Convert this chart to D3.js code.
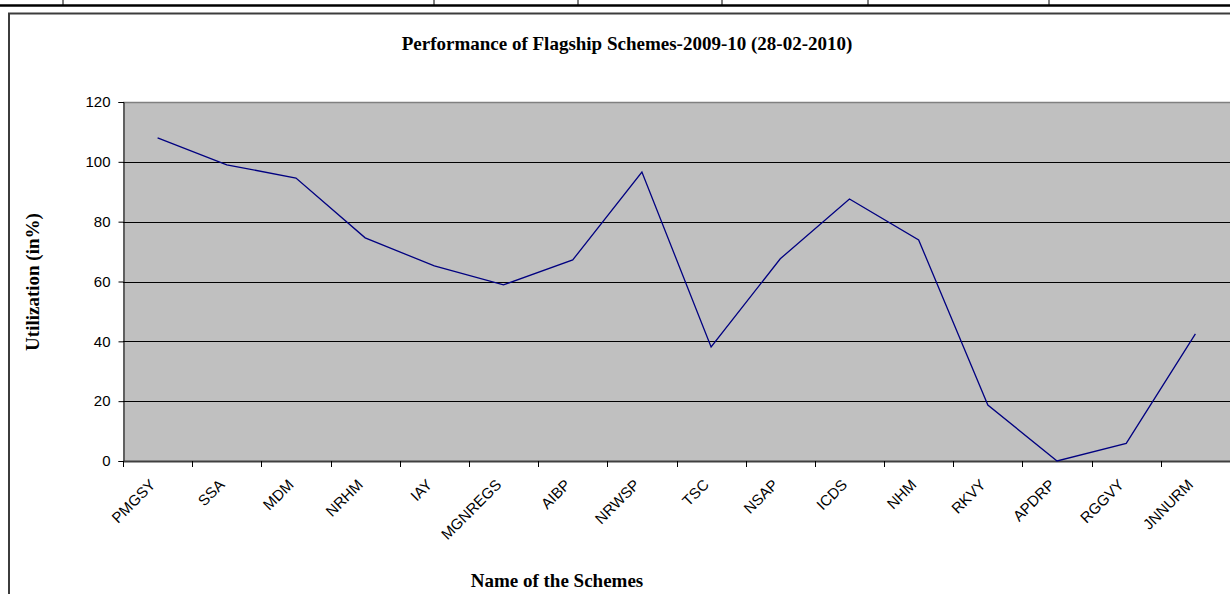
<!DOCTYPE html>
<html>
<head>
<meta charset="utf-8">
<title>Flagship Schemes</title>
<script src="https://cdnjs.cloudflare.com/ajax/libs/d3/7.8.5/d3.min.js"></script>
<style>
body { margin: 0; background: #fff; }
svg { display: block; }
.tick text, .xlab { font-family: "Liberation Sans", Arial, sans-serif; font-size: 15px; fill: #000; }
.ttl { font-family: "Liberation Serif", "Times New Roman", serif; font-weight: bold; font-size: 19px; }
</style>
</head>
<body>
<svg width="1230" height="594"></svg>
<script>
// values
var schemes = ["PMGSY", "SSA", "MDM", "NRHM", "IAY", "MGNREGS", "AIBP", "NRWSP",
               "TSC", "NSAP", "ICDS", "NHM", "RKVY", "APDRP", "RGGVY", "JNNURM"];
var utilization = [108, 99, 94.6, 74.6, 65.2, 58.9, 67.2, 96.6,
                   38.1, 67.6, 87.6, 73.9, 18.7, 0, 5.9, 42.5];
var yTicks = [0, 20, 40, 60, 80, 100, 120];
var tableCols = [63, 434, 578, 722, 868, 1049];

var svg = d3.select("svg");

// bit of the table above the chart
svg.append("line")
  .attr("x1", 0).attr("x2", 1230).attr("y1", 5.5).attr("y2", 5.5)
  .attr("stroke", "#000").attr("stroke-width", 2.5);
svg.selectAll("line.col")
  .data(tableCols)
  .enter().append("line")
  .attr("class", "col")
  .attr("x1", function(d) { return d; }).attr("x2", function(d) { return d; })
  .attr("y1", 0).attr("y2", 5)
  .attr("stroke", "#000").attr("stroke-width", 1);

// chart frame
svg.append("path")
  .attr("d", "M9,594 V13.5 H1230")
  .attr("fill", "none").attr("stroke", "#3c3c3c").attr("stroke-width", 2);

var pLeft = 123, pRight = 1230, pTop = 102, pBottom = 461;

var x = d3.scaleBand().domain(schemes).range([pLeft, pRight]);
var y = d3.scaleLinear().domain([0, 120]).range([pBottom, pTop]);

// plot area
svg.append("rect")
  .attr("x", pLeft).attr("y", pTop)
  .attr("width", pRight - pLeft).attr("height", pBottom - pTop)
  .attr("fill", "#c0c0c0");

// gridlines
svg.append("g")
  .selectAll("line")
  .data(yTicks.filter(function(d) { return d > 0 && d < 120; }))
  .enter().append("line")
  .attr("x1", pLeft).attr("x2", pRight)
  .attr("y1", function(d) { return Math.round(y(d)) + 0.5; })
  .attr("y2", function(d) { return Math.round(y(d)) + 0.5; })
  .attr("stroke", "#000").attr("stroke-width", 1);

svg.append("line")
  .attr("x1", pLeft).attr("x2", pRight).attr("y1", pTop + 0.5).attr("y2", pTop + 0.5)
  .attr("stroke", "#808080").attr("stroke-width", 1.5);

// y axis
var yAxis = d3.axisLeft(y).tickValues(yTicks).tickSize(5).tickPadding(8);
var gy = svg.append("g")
  .attr("transform", "translate(" + (pLeft + 0.5) + ",0)")
  .call(yAxis);
gy.select(".domain").attr("stroke", "#000");
gy.selectAll(".tick line").attr("stroke", "#000");
gy.selectAll(".tick text").style("font-size", "15px")
  .style("font-family", "'Liberation Sans', Arial, sans-serif");

// x axis, ticks on the band edges
var edges = schemes.map(function(d) { return x(d); }).concat([pRight]);
var gx = svg.append("g");
gx.append("line")
  .attr("x1", pLeft).attr("x2", pRight).attr("y1", pBottom + 0.5).attr("y2", pBottom + 0.5)
  .attr("stroke", "#404040").attr("stroke-width", 2);
gx.selectAll("line.tk")
  .data(edges)
  .enter().append("line")
  .attr("class", "tk")
  .attr("x1", function(d) { return Math.round(d) + 0.5; })
  .attr("x2", function(d) { return Math.round(d) + 0.5; })
  .attr("y1", pBottom).attr("y2", pBottom + 6)
  .attr("stroke", "#000");
gx.selectAll("text")
  .data(schemes)
  .enter().append("text")
  .attr("class", "xlab")
  .attr("transform", function(d) {
    return "translate(" + (x(d) + x.bandwidth() / 2 - 5) + "," + (pBottom + 21) + ") rotate(-45)";
  })
  .attr("text-anchor", "end")
  .attr("dy", "0.35em")
  .text(function(d) { return d; });

// the line
var line = d3.line()
  .x(function(d, i) { return x(schemes[i]) + x.bandwidth() / 2; })
  .y(function(d) { return y(d); });
svg.append("path")
  .datum(utilization)
  .attr("d", line)
  .attr("fill", "none")
  .attr("stroke", "#000080")
  .attr("stroke-width", 1.3);

// titles
svg.append("text").attr("class", "ttl")
  .attr("x", 627).attr("y", 50)
  .attr("text-anchor", "middle")
  .text("Performance of Flagship Schemes-2009-10 (28-02-2010)");

svg.append("text").attr("class", "ttl")
  .attr("x", 557).attr("y", 587)
  .attr("text-anchor", "middle")
  .text("Name of the Schemes");

svg.append("text").attr("class", "ttl")
  .attr("transform", "translate(39,282) rotate(-90)")
  .attr("text-anchor", "middle")
  .text("Utilization (in%)");
</script>
</body>
</html>
